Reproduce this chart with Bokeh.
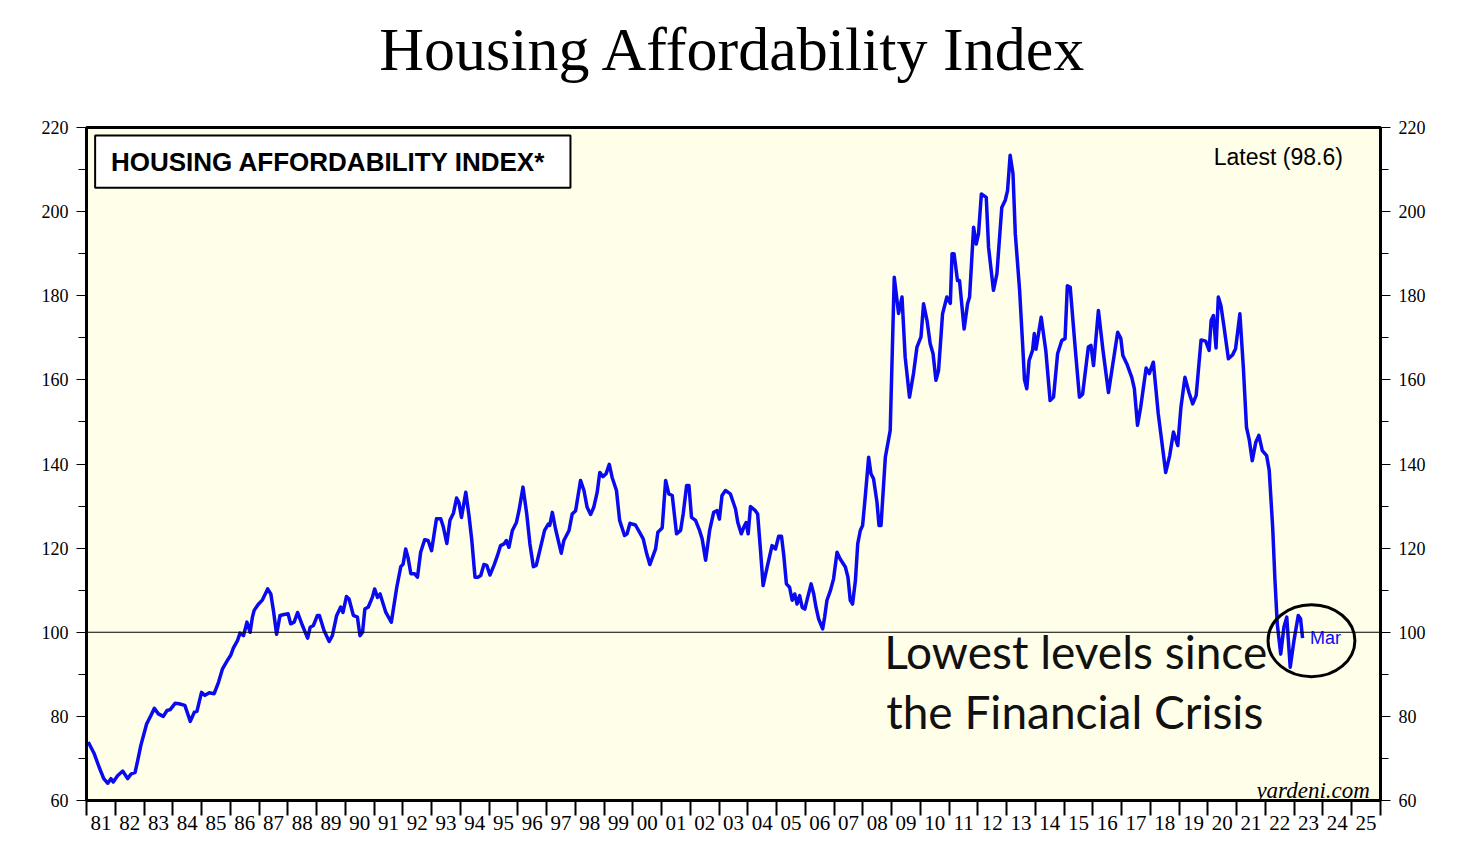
from bokeh.plotting import figure
from bokeh.models import (Span, Label, BoxAnnotation, LinearAxis, FixedTicker,
                          SingleIntervalTicker, Range1d, ColumnDataSource, Title)
from bokeh.embed import file_html
from bokeh.resources import INLINE

# ---- data (decimal year, index value) ----
years = [
    1981.06, 1981.27, 1981.44, 1981.6, 1981.74, 1981.85, 1981.93, 1982.08, 1982.26, 1982.43,
    1982.55, 1982.69, 1982.78, 1982.89, 1983.09, 1983.24, 1983.36, 1983.5, 1983.67, 1983.8,
    1983.91, 1984.08, 1984.22, 1984.42, 1984.61, 1984.75, 1984.84, 1985.0, 1985.12, 1985.27,
    1985.44, 1985.59, 1985.73, 1985.9, 1986.02, 1986.11, 1986.25, 1986.34, 1986.46, 1986.58,
    1986.69, 1986.77, 1986.83, 1986.97, 1987.12, 1987.3, 1987.41, 1987.5, 1987.61, 1987.73,
    1987.87, 1988.01, 1988.1, 1988.22, 1988.34, 1988.51, 1988.69, 1988.78, 1988.89, 1989.03,
    1989.1, 1989.26, 1989.44, 1989.55, 1989.7, 1989.84, 1989.92, 1990.04, 1990.13, 1990.28,
    1990.42, 1990.51, 1990.6, 1990.68, 1990.8, 1990.94,
    1991.02, 1991.12, 1991.21, 1991.41, 1991.6, 1991.79, 1991.93, 1992.01, 1992.1, 1992.18,
    1992.28, 1992.41, 1992.51, 1992.62, 1992.76, 1992.88, 1993.0, 1993.17, 1993.32, 1993.41,
    1993.53, 1993.64, 1993.76, 1993.87, 1993.95, 1994.04, 1994.19, 1994.3, 1994.4, 1994.51,
    1994.61, 1994.71, 1994.82, 1994.92, 1995.03, 1995.17, 1995.29, 1995.4, 1995.52, 1995.6,
    1995.69, 1995.81, 1995.95, 1996.04, 1996.18, 1996.31, 1996.42, 1996.54, 1996.64, 1996.79,
    1996.93, 1997.06, 1997.11, 1997.2, 1997.31, 1997.51, 1997.6, 1997.78, 1997.89, 1998.01,
    1998.18, 1998.3, 1998.41, 1998.53, 1998.64, 1998.76, 1998.85, 1998.96, 1999.07, 1999.18,
    1999.28, 1999.43, 1999.54, 1999.71, 1999.8, 1999.9, 2000.09, 2000.23, 2000.36, 2000.48,
    2000.59, 2000.79, 2000.87, 2001.02,
    2001.14, 2001.25, 2001.37, 2001.52, 2001.66, 2001.75, 2001.87, 2001.95, 2002.04, 2002.18,
    2002.32, 2002.41, 2002.53, 2002.67, 2002.81, 2002.93, 2003.01, 2003.1, 2003.22, 2003.39,
    2003.49, 2003.57, 2003.65, 2003.77, 2003.86, 2003.94, 2004.01, 2004.09, 2004.26, 2004.34,
    2004.44, 2004.53, 2004.67, 2004.84, 2004.96, 2005.07, 2005.17, 2005.25, 2005.34, 2005.45,
    2005.54, 2005.63, 2005.71, 2005.8, 2005.89, 2005.98, 2006.08, 2006.2, 2006.29, 2006.37,
    2006.46, 2006.6, 2006.67, 2006.75, 2006.87, 2006.98, 2007.1, 2007.21, 2007.39, 2007.48,
    2007.56, 2007.64, 2007.74, 2007.82, 2007.91, 2007.99, 2008.08, 2008.2, 2008.28, 2008.37,
    2008.49, 2008.56, 2008.63, 2008.78, 2008.95,
    2009.09, 2009.24, 2009.36, 2009.47, 2009.62, 2009.76, 2009.88, 2010.02, 2010.11, 2010.23,
    2010.34, 2010.44, 2010.54, 2010.63, 2010.77, 2010.92, 2011.04, 2011.1, 2011.17, 2011.29,
    2011.36, 2011.52, 2011.64, 2011.71, 2011.85, 2011.94, 2012.02, 2012.12, 2012.29, 2012.37,
    2012.54, 2012.66, 2012.83, 2012.95, 2013.03, 2013.12, 2013.22, 2013.3, 2013.45, 2013.56,
    2013.62, 2013.7, 2013.78, 2013.9, 2013.96, 2014.02, 2014.2, 2014.36, 2014.51, 2014.63,
    2014.77, 2014.92, 2015.03, 2015.11, 2015.21, 2015.38, 2015.53, 2015.64, 2015.84, 2015.93,
    2016.02, 2016.19, 2016.35, 2016.54, 2016.71, 2016.86, 2016.97, 2017.04, 2017.18, 2017.35,
    2017.44, 2017.55, 2017.66, 2017.85, 2017.96, 2018.1, 2018.27, 2018.39, 2018.53, 2018.67,
    2018.8, 2018.95, 2019.06, 2019.2, 2019.34, 2019.47, 2019.59, 2019.76, 2019.92, 2020.04,
    2020.11, 2020.19, 2020.28, 2020.36, 2020.45, 2020.56, 2020.71, 2020.86, 2020.96, 2021.11,
    2021.23, 2021.34, 2021.44, 2021.54, 2021.66, 2021.77, 2021.89, 2022.04, 2022.13, 2022.25,
    2022.33, 2022.41, 2022.53, 2022.64, 2022.74, 2022.86, 2022.99, 2023.14, 2023.22, 2023.29,
]
values = [
    73.9, 71.1, 67.9, 65.2, 64.1, 65.2, 64.4, 65.9, 67.0, 65.2,
    66.3, 66.7, 69.5, 73.1, 78.2, 80.2, 81.9, 80.6, 80.0, 81.4,
    81.6, 83.1, 83.0, 82.6, 78.8, 81.0, 81.2, 85.7, 85.0, 85.6,
    85.4, 88.1, 91.3, 93.3, 94.6, 96.3, 98.0, 99.8, 99.2, 102.4,
    100.0, 103.6, 105.2, 106.6, 107.7, 110.3, 109.1, 105.2, 99.5, 104.0,
    104.2, 104.4, 102.0, 102.4, 104.7, 101.6, 98.6, 101.2, 101.6, 104.0,
    104.0, 100.4, 97.8, 99.2, 104.0, 106.0, 104.7, 108.5, 107.9, 104.0,
    103.6, 99.2, 100.0, 105.5, 106.0, 108.3,
    110.3, 108.3, 109.1, 104.7, 102.4, 110.7, 115.6, 116.2, 119.8, 117.8,
    113.9, 113.9, 113.1, 119.0, 122.0, 121.8, 119.4, 127.0, 127.0, 125.0,
    121.1, 126.6, 128.3, 131.9, 130.9, 127.3, 133.3, 127.8, 121.8, 113.1,
    113.1, 113.5, 116.1, 115.9, 113.6, 115.9, 118.2, 120.6, 121.0, 121.8,
    120.2, 124.2, 126.1, 128.9, 134.5, 128.1, 121.0, 115.6, 115.9, 120.2,
    124.2, 125.7, 125.4, 128.5, 124.6, 118.8, 121.8, 124.2, 128.1, 128.9,
    136.1, 133.7, 129.7, 128.0, 129.7, 133.3, 138.0, 137.0, 137.7, 139.9,
    136.8, 133.7, 126.6, 123.0, 123.4, 125.9, 125.5, 123.8, 122.2, 118.7,
    116.1, 119.8, 123.8, 124.8,
    136.1, 132.9, 132.5, 123.4, 124.2, 128.1, 134.9, 134.9, 127.3, 126.6,
    124.2, 122.2, 117.1, 124.2, 128.5, 128.9, 126.9, 132.5, 133.7, 132.9,
    130.9, 129.3, 126.1, 123.4, 125.0, 126.1, 123.4, 129.9, 128.9, 128.1,
    119.4, 111.1, 115.5, 120.6, 119.8, 122.8, 122.8, 118.2, 111.5, 110.7,
    107.6, 109.1, 106.7, 108.7, 105.9, 105.5, 108.3, 111.5, 109.1, 105.9,
    103.2, 100.8, 103.6, 107.6, 109.9, 112.7, 119.0, 117.4, 115.5, 113.1,
    107.6, 106.7, 112.3, 121.0, 124.2, 125.4, 132.1, 141.6, 137.7, 136.5,
    130.9, 125.4, 125.4, 141.6, 148.0,
    184.4, 175.8, 179.7, 165.4, 155.9, 161.5, 167.8, 170.2, 178.1, 174.1,
    168.6, 166.2, 159.9, 162.2, 175.7, 179.7, 178.2, 190.0, 190.0, 183.6,
    183.6, 172.1, 178.1, 179.7, 196.3, 192.3, 194.7, 204.2, 203.4, 191.5,
    181.3, 185.2, 201.0, 202.7, 205.0, 213.4, 209.0, 194.7, 181.3, 167.8,
    160.0, 157.9, 164.6, 167.0, 171.0, 167.3, 174.9, 167.0, 155.1, 155.9,
    166.2, 169.4, 169.8, 182.4, 182.0, 167.8, 155.9, 156.6, 167.8, 168.2,
    163.4, 176.5, 167.0, 157.0, 164.6, 171.3, 169.8, 165.8, 163.8, 160.6,
    157.9, 149.2, 153.5, 162.8, 161.5, 164.2, 152.0, 145.6, 138.0, 142.0,
    147.6, 144.4, 153.5, 160.6, 157.0, 154.3, 156.3, 169.5, 169.2, 167.0,
    174.1, 175.3, 167.6, 179.7, 177.7, 172.5, 165.0, 166.0, 167.4, 175.7,
    163.0, 148.7, 145.6, 140.8, 145.1, 146.8, 143.2, 142.0, 138.5, 125.0,
    112.3, 102.0, 94.8, 101.2, 103.6, 91.7, 98.0, 104.0, 103.2, 98.6,
]

tick_years = list(range(1981, 2027))
label_years = list(range(1981, 2026))
year_labels = [f"{y % 100:02d}" for y in label_years]
latest_value = 98.6
latest_month = "Mar"
reference_level = 100
title_text = "Housing Affordability Index"

# ---- figure ----
p = figure(width=1460, height=844,
           x_range=Range1d(1981, 2026), y_range=Range1d(60, 220),
           output_backend="svg", toolbar_location=None,
           min_border_left=86, min_border_right=80,
           min_border_top=127, min_border_bottom=44)

# spacer between frame and title (added first -> nearest the frame)
p.add_layout(Title(text=" ", standoff=32, text_font="Liberation Serif",
                   text_font_size="10px"), "above")
p.add_layout(Title(text=title_text, align="center", vertical_align="bottom",
                   standoff=0, text_font="Liberation Serif",
                   text_font_style="normal", text_font_size="62px",
                   text_color="black"), "above")

p.background_fill_color = "#FFFEE8"
p.border_fill_color = "white"
p.outline_line_color = "black"
p.outline_line_width = 3
p.grid.visible = False

# bottom axis: year ticks at year boundaries, labels centred mid-year
mids = [y + 0.5 for y in label_years]
xa = p.xaxis[0]
xa.ticker = FixedTicker(ticks=mids, minor_ticks=tick_years)
xa.major_label_overrides = {m: lab for m, lab in zip(mids, year_labels)}
xa.major_tick_out = 0
xa.major_tick_in = 0
xa.minor_tick_out = 15
xa.minor_tick_in = 0
xa.minor_tick_line_width = 2
xa.minor_tick_line_color = "black"
xa.axis_line_width = 3
xa.major_label_text_font = "Liberation Serif"
xa.major_label_text_font_size = "21px"
xa.major_label_text_color = "black"
xa.major_label_standoff = 0

def style_y(ax):
    ax.ticker = SingleIntervalTicker(interval=20, num_minor_ticks=2)
    ax.major_tick_out = 10
    ax.major_tick_in = 0
    ax.minor_tick_out = 8
    ax.minor_tick_in = 0
    ax.major_tick_line_width = 1
    ax.minor_tick_line_width = 1
    ax.major_tick_line_color = "black"
    ax.minor_tick_line_color = "black"
    ax.axis_line_width = 3
    ax.major_label_text_font = "Liberation Serif"
    ax.major_label_text_font_size = "18px"
    ax.major_label_text_color = "black"
    ax.major_label_standoff = 8

style_y(p.yaxis[0])
ry = LinearAxis()
style_y(ry)
p.add_layout(ry, "right")

# reference line at 100
p.add_layout(Span(location=reference_level, dimension="width",
                  line_color="black", line_width=1))

# series
src = ColumnDataSource(dict(x=years, y=values))
p.line("x", "y", source=src, line_color="#0A0AF0", line_width=3.5,
       line_join="round")

# header box
p.add_layout(BoxAnnotation(left=1981.3, right=1997.83, bottom=205.7, top=218.1,
                           fill_color="white", fill_alpha=1.0,
                           line_color="black", line_alpha=1.0, line_width=2,
                           level="overlay"))
p.add_layout(Label(x=1981.85, y=211.8, text="HOUSING AFFORDABILITY INDEX*",
                   text_font="Liberation Sans", text_font_style="bold",
                   text_font_size="26px", text_color="black",
                   text_baseline="middle", level="overlay"))

p.add_layout(Label(x=2024.69, y=212.9, text=f"Latest ({latest_value})",
                   text_font="Liberation Sans", text_font_size="23px",
                   text_color="black", text_align="right",
                   text_baseline="middle"))

p.add_layout(Label(x=2025.63, y=62.4, text="yardeni.com",
                   text_font="Liberation Serif", text_font_style="italic",
                   text_font_size="23px", text_color="black",
                   text_align="right", text_baseline="alphabetic"))

# annotation
p.add_layout(Label(x=2008.74, y=95.4, text="Lowest levels since",
                   text_font="Lato", text_font_size="46px", text_color="#111111",
                   text_baseline="alphabetic"))
p.add_layout(Label(x=2008.81, y=81.1, text="the Financial Crisis",
                   text_font="Lato", text_font_size="46px", text_color="#111111",
                   text_baseline="alphabetic"))
p.ellipse(x=[2023.6], y=[98.0], width=[3.02], height=[17.1],
          fill_color=None, line_color="black", line_width=3)
p.add_layout(Label(x=2023.55, y=98.6, text=latest_month,
                   text_font="Liberation Sans", text_font_size="18px",
                   text_color="#0A0AF0", text_baseline="middle"))

open("out.html", "w").write(file_html(p, INLINE))
